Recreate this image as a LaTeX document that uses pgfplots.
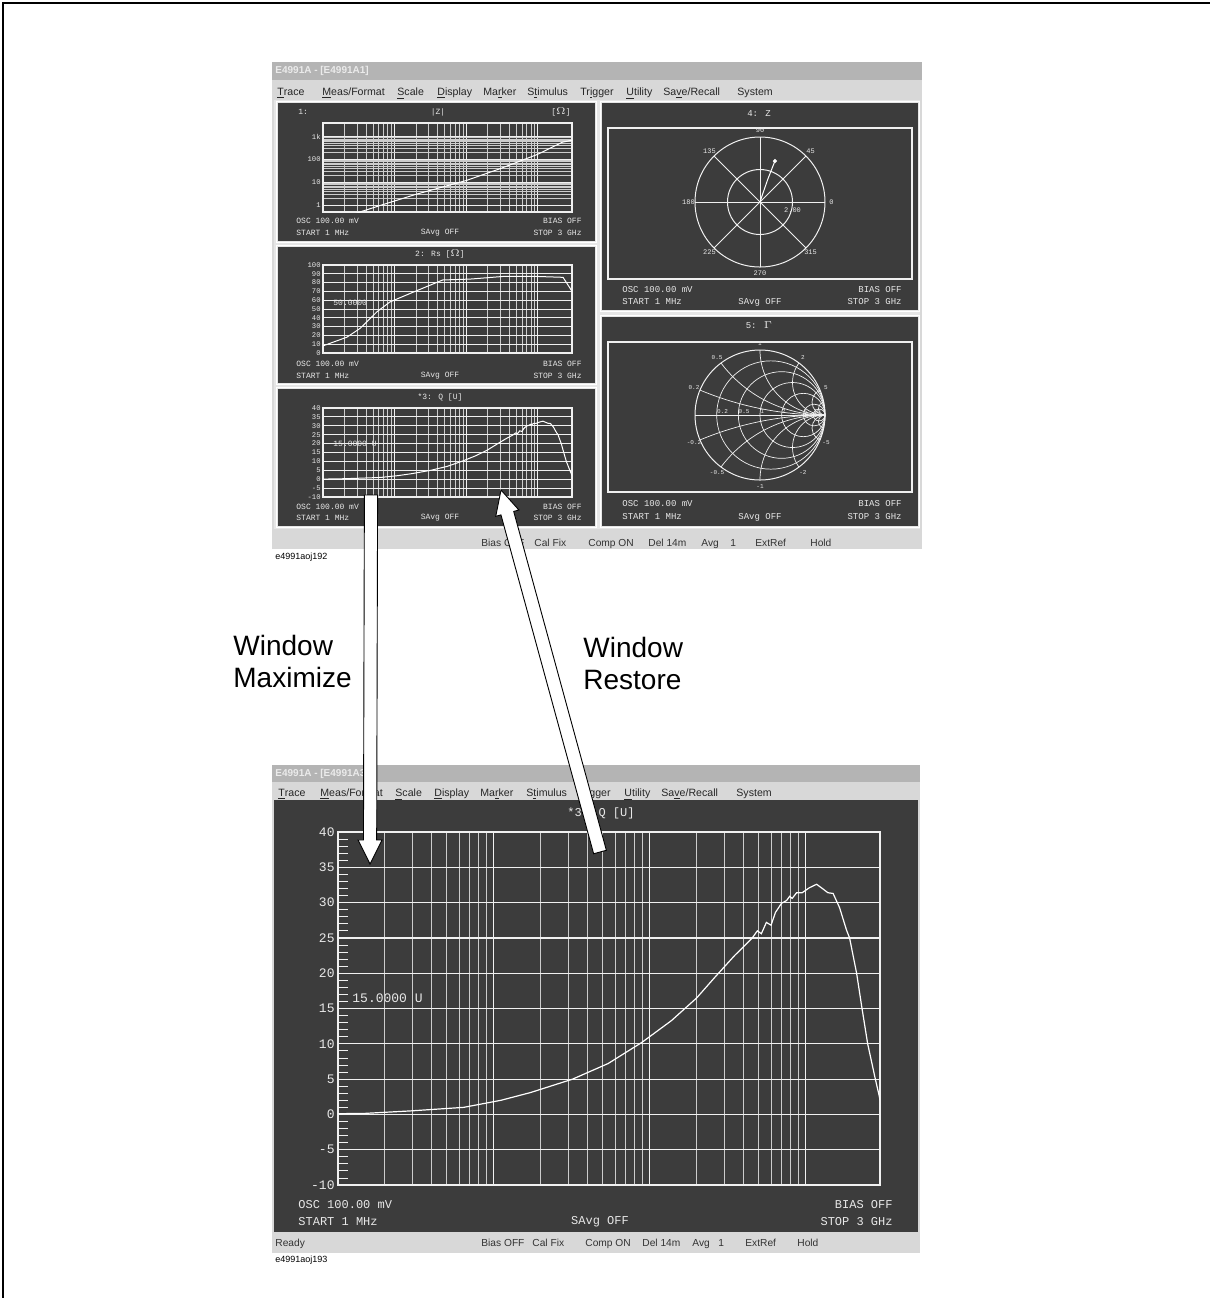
\documentclass[border=0pt]{standalone}
\usepackage{pgfplots}
\pgfplotsset{compat=1.18}
\usepackage{pgfplotstable}
\usetikzlibrary{calc}
\usepackage{fontspec}
\setmainfont{Liberation Sans}
\newfontfamily\mono{Liberation Mono}
\definecolor{scrbg}{HTML}{3C3C3C}
\definecolor{barbg}{HTML}{D8D8D8}
\definecolor{tbarbg}{HTML}{B4B4B4}
\definecolor{frmbg}{HTML}{E6E6E6}
\definecolor{ink}{HTML}{E8E8E8}
\definecolor{gline}{HTML}{F0F0F0}

% Q [U] versus frequency (MHz)
\pgfplotstableread{
f q
1 0.1
1.5 0.15
2.94 0.5
6.4 1.0
11.1 2.0
17.2 3.1
32 5.0
54 7.2
89 10.2
138 13.3
200 16.5
261 19.4
350 22.5
451 24.9
490 26.0
520 25.6
560 27.2
600 26.8
640 28.6
700 29.9
755 30.3
790 30.9
820 30.6
875 31.4
950 31.4
1055 32.1
1176 32.6
1280 32.0
1390 31.4
1500 31.3
1650 29.3
1830 26.1
1914 25.0
2123 20.0
2300 15.0
2500 10.0
2800 5.0
2960 2.7
3000 2.0
}\qdata

% Rs [Ohm] versus frequency (MHz)
\pgfplotstableread{
f r
1 8
1.07 9
2.16 18
3.3 28
5.7 47
8.6 58
18 69
47 83
113 84
327 87
980 87
2250 86
2800 74
3000 70
}\rsdata

% |Z| [Ohm] versus frequency (MHz)
\pgfplotstableread{
f z
1 0.15
6.5 1
20 3
100 12
300 40
1000 170
2200 575
3000 700
}\zdata

% Z polar trace
\pgfplotstableread{
x y
0 0
0.05 0.15
0.12 0.35
0.19 0.53
0.23 0.63
}\polardata

\newcommand\mitem[3]{\node[anchor=base west, inner sep=0, font=\fontsize{5.3}{6}\selectfont, text=black!85] at (#1,#2) {#3};}
\newcommand\sitem[3]{\node[anchor=base west, inner sep=0, font=\fontsize{5.1}{6}\selectfont, text=black!80] at (#1,#2) {#3};}
\newcommand\fatarrow[2]{%
 \coordinate (T) at #1; \coordinate (H) at #2;
 \coordinate (B) at ($(H)!12pt!(T)$);
 \filldraw[fill=white, draw=black, line width=0.45pt, line join=miter]
   ($(T)!3.3pt!90:(H)$) -- ($(B)!3.3pt!90:(H)$) -- ($(B)!6pt!90:(H)$) -- (H) --
   ($(B)!6pt!-90:(H)$) -- ($(B)!3.3pt!-90:(H)$) -- ($(T)!3.3pt!-90:(H)$) -- cycle;
}
\newcommand\smallfont{\mono\fontsize{4}{4}\selectfont}
\newcommand\labfont{\mono\fontsize{3.6}{3.6}\selectfont}
\newcommand\bigfont{\mono\fontsize{6.5}{7}\selectfont}
\newcommand\tinyfont{\mono\fontsize{3.5}{4}\selectfont}
\newcommand\microfont{\mono\fontsize{3}{3}\selectfont}

\begin{document}
\begin{tikzpicture}
\begin{scope}[x=0.5pt,y=-0.5pt]
\useasboundingbox (0,0) rectangle (1210,1298);
\draw[line width=1.2pt] (3,1298) -- (3,3) -- (1210,3);

% ================= TOP SCREENSHOT =================
\fill[barbg] (272,62) rectangle (922,549);
\fill[tbarbg] (272,62) rectangle (922,80);
\node[anchor=west, inner sep=0, text=white!92!black, font=\fontsize{5}{6}\selectfont\bfseries] at (275,71) {E4991A - [E4991A1]};
\mitem{277}{95}{\underline{T}race}
\mitem{322}{95}{\underline{M}eas/Format}
\mitem{397}{95}{\underline{S}cale}
\mitem{437}{95}{\underline{D}isplay}
\mitem{483}{95}{Ma\underline{r}ker}
\mitem{527}{95}{S\underline{t}imulus}
\mitem{580}{95}{Tr\underline{i}gger}
\mitem{626}{95}{\underline{U}tility}
\mitem{663}{95}{Sa\underline{v}e/Recall}
\mitem{737}{95}{S\underline{y}stem}
\fill[frmbg] (274,100) rectangle (920,529);
\fill[scrbg] (278,103) rectangle (595,241);
\fill[scrbg] (278,247) rectangle (595,383);
\fill[scrbg] (278,389) rectangle (595,526);
\fill[scrbg] (602,103) rectangle (918,310);
\fill[scrbg] (602,317) rectangle (918,526);
\draw[white, line width=0.6pt] (276.5,101.5) rectangle (596.5,242.5);
\draw[white, line width=0.6pt] (276.5,245.5) rectangle (596.5,384.5);
\draw[white, line width=0.6pt] (276.5,387.5) rectangle (596.5,527.5);
\draw[white, line width=0.6pt] (600.5,101.5) rectangle (919.5,311.5);
\draw[white, line width=0.6pt] (600.5,315.5) rectangle (919.5,527.5);
\sitem{481}{546}{Bias OFF}
\sitem{534}{546}{Cal Fix}
\sitem{588}{546}{Comp ON}
\sitem{648}{546}{Del 14m}
\sitem{701}{546}{Avg}
\sitem{730}{546}{1}
\sitem{755}{546}{ExtRef}
\sitem{810}{546}{Hold}
\node[anchor=west, inner sep=0, font=\fontsize{4.5}{5}\selectfont] at (275,557) {e4991aoj192};

% panel texts (left)
\begin{scope}[every node/.style={font=\smallfont, text=ink, inner sep=0}]
\node[anchor=west] at (298,112) {1:};
\node at (438,112) {|Z|};
\node at (561,112) {[$\Omega$]};
\node[anchor=west] at (296,221) {OSC 100.00 mV};
\node[anchor=east] at (582,221) {BIAS OFF};
\node[anchor=west] at (296,233) {START 1 MHz};
\node at (440,233) {SAvg OFF};
\node[anchor=east] at (582,233) {STOP 3 GHz};
\node at (440,254) {2: Rs [$\Omega$]};
\node[anchor=west] at (296,364) {OSC 100.00 mV};
\node[anchor=east] at (582,364) {BIAS OFF};
\node[anchor=west] at (296,376) {START 1 MHz};
\node at (440,376) {SAvg OFF};
\node[anchor=east] at (582,376) {STOP 3 GHz};
\node at (440,397) {*3: Q [U]};
\node[anchor=west] at (296,507) {OSC 100.00 mV};
\node[anchor=east] at (582,507) {BIAS OFF};
\node[anchor=west] at (296,518) {START 1 MHz};
\node at (440,518) {SAvg OFF};
\node[anchor=east] at (582,518) {STOP 3 GHz};
\node[anchor=west] at (333,303) {50.0000};
\node[anchor=west] at (333,444) {15.0000 U};
\end{scope}
\begin{scope}[every node/.style={font=\mono\fontsize{4.5}{5}\selectfont, text=ink, inner sep=0}]
\node at (759,114) {4: Z};
\node[anchor=west] at (622,290) {OSC 100.00 mV};
\node[anchor=east] at (902,290) {BIAS OFF};
\node[anchor=west] at (622,302) {START 1 MHz};
\node at (760,302) {SAvg OFF};
\node[anchor=east] at (902,302) {STOP 3 GHz};
\node at (759,325) {5: $\Gamma$};
\node[anchor=west] at (622,504) {OSC 100.00 mV};
\node[anchor=east] at (902,504) {BIAS OFF};
\node[anchor=west] at (622,517) {START 1 MHz};
\node at (760,517) {SAvg OFF};
\node[anchor=east] at (902,517) {STOP 3 GHz};
\end{scope}

% ================= BOTTOM SCREENSHOT =================
\fill[barbg] (272,765) rectangle (920,1253);
\fill[tbarbg] (272,765) rectangle (920,782);
\node[anchor=west, inner sep=0, text=white!92!black, font=\fontsize{5}{6}\selectfont\bfseries] at (275,773.5) {E4991A - [E4991A3]};
\mitem{278}{796}{\underline{T}race}
\mitem{320}{796}{\underline{M}eas/Format}
\mitem{395}{796}{\underline{S}cale}
\mitem{434}{796}{\underline{D}isplay}
\mitem{480}{796}{Ma\underline{r}ker}
\mitem{526}{796}{S\underline{t}imulus}
\mitem{577}{796}{Tr\underline{i}gger}
\mitem{624}{796}{\underline{U}tility}
\mitem{661}{796}{Sa\underline{v}e/Recall}
\mitem{736}{796}{S\underline{y}stem}
\fill[scrbg] (274,800) rectangle (918,1232);
\sitem{275}{1246}{Ready}
\sitem{481}{1246}{Bias OFF}
\sitem{532}{1246}{Cal Fix}
\sitem{585}{1246}{Comp ON}
\sitem{642}{1246}{Del 14m}
\sitem{692}{1246}{Avg}
\sitem{718}{1246}{1}
\sitem{745}{1246}{ExtRef}
\sitem{797}{1246}{Hold}
\node[anchor=west, inner sep=0, font=\fontsize{4.5}{5}\selectfont] at (275,1260) {e4991aoj193};
\begin{scope}[every node/.style={font=\mono\fontsize{6}{7}\selectfont, text=ink, inner sep=0}]
\node at (601,813) {*3: Q [U]};
\node[anchor=west] at (298,1205) {OSC 100.00 mV};
\node[anchor=east] at (893,1205) {BIAS OFF};
\node[anchor=west] at (298,1222) {START 1 MHz};
\node at (600,1222) {SAvg OFF};
\node[anchor=east] at (893,1222) {STOP 3 GHz};
\node[anchor=west, font=\bigfont] at (352,998) {15.0000 U};
\end{scope}
\end{scope}

% Panel 1: |Z|
\begin{axis}[at={(161.5pt,-61.5pt)}, anchor=north west, scale only axis,
  width=124.5pt, height=44.5pt,
  xmode=log, ymode=log, xmin=1, xmax=3000, ymin=0.5, ymax=3981,
  xtick={1,10,100,1000}, xticklabels={},
  ytick={1,10,100,1000}, yticklabels={1,10,100,1k},
  xmajorgrids, xminorgrids, ymajorgrids, yminorgrids,
  axis line style={gline, line width=0.6pt},
  major grid style={gline, line width=0.5pt},
  minor grid style={gline!85!black, line width=0.35pt},
  tick style={draw=none},
  /pgf/number format/assume math mode=true,
  yticklabel style={font=\labfont, text=ink, inner sep=1pt}]
\addplot[white, line width=0.5pt] table[x=f,y=z] {\zdata};
\end{axis}
% Panel 2: Rs
\begin{axis}[at={(161.5pt,-132.5pt)}, anchor=north west, scale only axis,
  width=124.5pt, height=44pt,
  xmode=log, xmin=1, xmax=3000, ymin=0, ymax=100,
  xtick={1,10,100,1000}, xticklabels={},
  ytick={0,10,...,100},
  xmajorgrids, xminorgrids, ymajorgrids,
  axis line style={gline, line width=0.6pt},
  major grid style={gline, line width=0.5pt},
  minor grid style={gline!85!black, line width=0.35pt},
  tick style={draw=none},
  /pgf/number format/assume math mode=true,
  yticklabel style={font=\labfont, text=ink, inner sep=1pt}]
\addplot[white, line width=0.5pt] table[x=f,y=r] {\rsdata};
\end{axis}
% Panel 3: Q
\begin{axis}[at={(161.5pt,-204pt)}, anchor=north west, scale only axis,
  width=124.5pt, height=44.5pt,
  xmode=log, xmin=1, xmax=3000, ymin=-10, ymax=40,
  xtick={1,10,100,1000}, xticklabels={},
  ytick={-10,-5,...,40},
  xmajorgrids, xminorgrids, ymajorgrids,
  axis line style={gline, line width=0.6pt},
  major grid style={gline, line width=0.5pt},
  minor grid style={gline!85!black, line width=0.35pt},
  tick style={draw=none},
  /pgf/number format/assume math mode=true,
  yticklabel style={font=\labfont, text=ink, inner sep=1pt}]
\addplot[white, line width=0.5pt] table[x=f,y=q] {\qdata};
\end{axis}
% Panel 4: polar Z
\begin{axis}[at={(304pt,-64pt)}, anchor=north west, scale only axis,
  width=152pt, height=75.5pt, ticks=none, clip=false,
  axis line style={gline, line width=0.6pt},
  xmin=-2.3385, xmax=2.3385, ymin=-1.1846, ymax=1.1385]
\draw[gline, line width=0.5pt] (axis cs:0,0) circle[radius=1];
\draw[gline, line width=0.5pt] (axis cs:0,0) circle[radius=0.5];
\pgfplotsinvokeforeach{0,45,90,135,180,225,270,315}{
  \draw[gline, line width=0.4pt] (axis cs:0,0) -- (axis cs:{cos(#1)},{sin(#1)});
  \node[font=\tinyfont, text=ink, inner sep=0] at (axis cs:{1.1*cos(#1)},{1.1*sin(#1)}) {#1};
}
\node[font=\tinyfont, text=ink, inner sep=0] at (axis cs:0.5,-0.13) {2.00};
\addplot[white, line width=0.5pt] table[x=x,y=y] {\polardata};
\addplot[only marks, mark=*, mark size=0.8pt, white] coordinates {(0.23,0.63)};
\end{axis}
% Panel 5: Smith chart
\begin{axis}[at={(304pt,-171pt)}, anchor=north west, scale only axis,
  width=152pt, height=75pt, ticks=none, clip=false,
  axis line style={gline, line width=0.6pt},
  xmin=-2.3385, xmax=2.3385, ymin=-1.1846, ymax=1.1231]
\draw[gline, line width=0.5pt] (axis cs:0,0) circle[radius=1];
\draw[gline, line width=0.4pt] (axis cs:-1,0) -- (axis cs:1,0);
\pgfplotsinvokeforeach{0.2,0.5,1,2,5,10}{
  \draw[gline, line width=0.35pt] (axis cs:{#1/(1+#1)},0) circle[radius={1/(1+#1)}];
  \node[font=\microfont, text=ink, inner sep=0, anchor=south west] at (axis cs:{(#1-1)/(#1+1)},0.01) {#1};
}
\begin{scope}
\clip (axis cs:0,0) circle[radius=1];
\pgfplotsinvokeforeach{0.2,0.5,1,2,5,10}{
  \draw[gline, line width=0.35pt] (axis cs:1,{1/#1}) circle[radius={1/#1}];
  \draw[gline, line width=0.35pt] (axis cs:1,{-1/#1}) circle[radius={1/#1}];
}
\end{scope}
\pgfplotsinvokeforeach{0.2,0.5,1,2,5}{
  \node[font=\microfont, text=ink, inner sep=0] at (axis cs:{1.1*(#1*#1-1)/(#1*#1+1)},{1.1*2*#1/(#1*#1+1)}) {#1};
  \node[font=\microfont, text=ink, inner sep=0] at (axis cs:{1.1*(#1*#1-1)/(#1*#1+1)},{-1.1*2*#1/(#1*#1+1)}) {-#1};
}
\end{axis}
% Bottom: Q maximized
\begin{axis}[at={(169pt,-416pt)}, anchor=north west, scale only axis,
  width=271pt, height=176.5pt,
  xmode=log, xmin=1, xmax=3000, ymin=-10, ymax=40,
  xtick={1,10,100,1000}, xticklabels={},
  ytick={-10,-5,...,40}, minor y tick num=4,
  xmajorgrids, xminorgrids, ymajorgrids,
  axis line style={gline, line width=0.6pt},
  major grid style={gline, line width=0.6pt},
  minor grid style={gline!85!black, line width=0.5pt},
  tick style={gline, line width=0.4pt},
  xtick style={draw=none},
  ytick pos=left, tick align=inside,
  minor tick length=5pt, major tick length=0pt,
  /pgf/number format/assume math mode=true,
  yticklabel style={font=\bigfont, text=ink, inner sep=1.5pt}]
\addplot[white, line width=0.6pt] table[x=f,y=q] {\qdata};
\end{axis}

% ================= ARROWS AND LABELS =================
\begin{scope}[x=0.5pt,y=-0.5pt]
\fatarrow{(371,495)}{(370,864)}
\fatarrow{(600,852)}{(501,490)}
\node[anchor=base west, inner sep=0, font=\fontsize{14}{16}\selectfont] at (233,655) {Window};
\node[anchor=base west, inner sep=0, font=\fontsize{14}{16}\selectfont] at (233,687) {Maximize};
\node[anchor=base west, inner sep=0, font=\fontsize{14}{16}\selectfont] at (583,657) {Window};
\node[anchor=base west, inner sep=0, font=\fontsize{14}{16}\selectfont] at (583,689) {Restore};
\end{scope}
\end{tikzpicture}
\end{document}
